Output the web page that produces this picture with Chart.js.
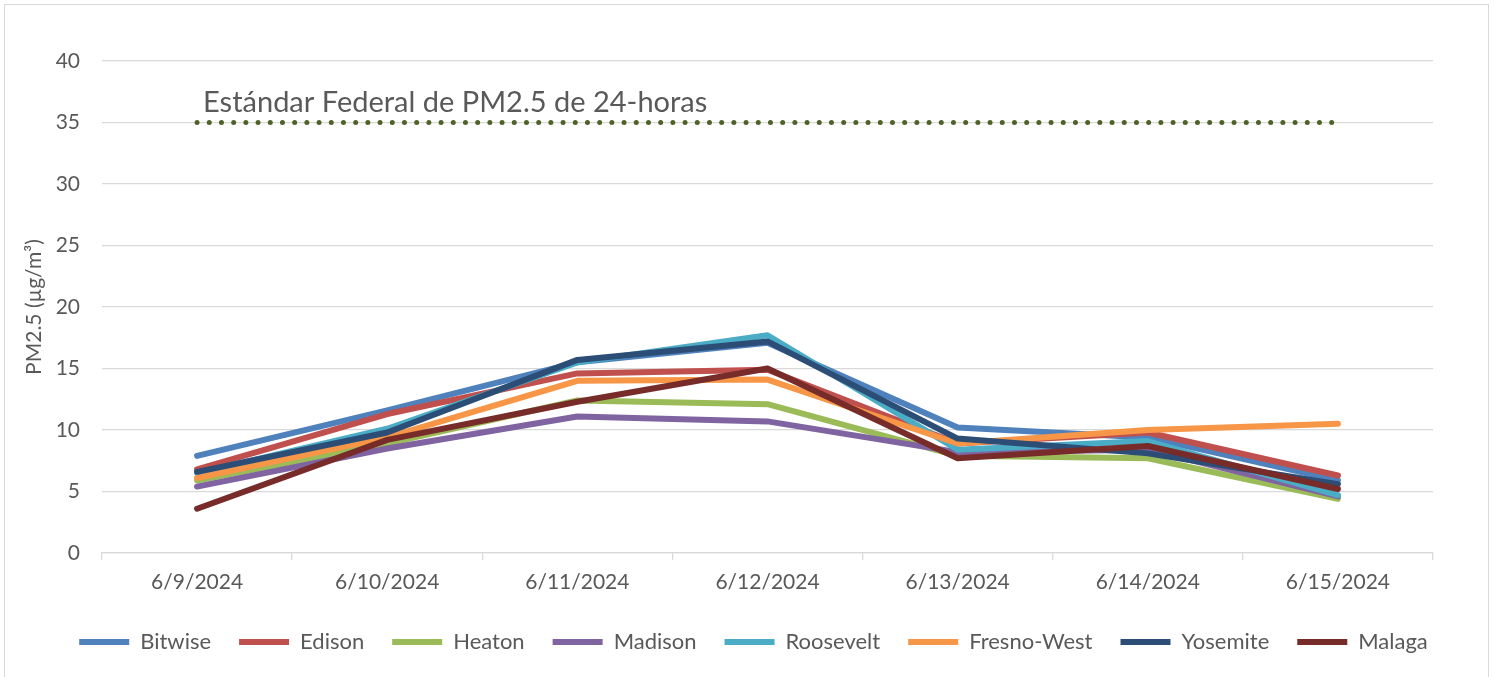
<!DOCTYPE html>
<html>
<head>
<meta charset="utf-8">
<script src="https://cdn.jsdelivr.net/npm/chart.js@4"></script>
<style>
  html, body { margin: 0; padding: 0; background: #fff; }
  #wrap { position: relative; width: 1496px; height: 677px; overflow: hidden; }
  #frame { position: absolute; left: 4px; top: 4px; width: 1485px; height: 700px; border: 1px solid #d9d9d9; box-sizing: border-box; }
  canvas { position: absolute; left: 0; top: 0; }
</style>
</head>
<body>
<div id="wrap">
  <div id="frame"></div>
  <canvas id="c" width="1496" height="677"></canvas>
</div>
<script>
const categories = ['6/9/2024', '6/10/2024', '6/11/2024', '6/12/2024', '6/13/2024', '6/14/2024', '6/15/2024'];
const seriesNames = ['Bitwise', 'Edison', 'Heaton', 'Madison', 'Roosevelt', 'Fresno-West', 'Yosemite', 'Malaga'];
const bitwise    = [7.9, 11.6, 15.5, 17.1, 10.2, 9.4, 5.9];
const edison     = [6.8, 11.3, 14.6, 14.9, 8.9, 9.8, 6.3];
const heaton     = [5.9, 8.9, 12.4, 12.1, 7.9, 7.7, 4.4];
const madison    = [5.4, 8.5, 11.1, 10.7, 8.2, 8.4, 4.6];
const roosevelt  = [6.5, 10.1, 15.5, 17.7, 8.4, 9.1, 4.7];
const fresnoWest = [6.1, 9.4, 14.0, 14.1, 8.9, 10.0, 10.5];
const yosemite   = [6.6, 9.8, 15.7, 17.2, 9.3, 8.1, 5.6];
const malaga     = [3.6, 9.2, 12.3, 15.0, 7.7, 8.7, 5.2];
const federalStandard = [35, 35, 35, 35, 35, 35, 35];
const federalLabel = 'Estándar Federal de PM2.5 de 24-horas';
const yTicks = [0, 5, 10, 15, 20, 25, 30, 35, 40];
const yTitle = 'PM2.5 (µg/m³)';

const seriesValues = [bitwise, edison, heaton, madison, roosevelt, fresnoWest, yosemite, malaga];
const seriesColors = ['#4F81BD', '#C0504D', '#9BBB59', '#8064A2', '#4BACC6', '#F79646', '#2C4D75', '#772C2A'];

const FONT = 'Lato, "Open Sans", sans-serif';
const TXT = '#595959';

const datasets = seriesNames.map((name, i) => ({
  label: name,
  data: seriesValues[i],
  borderColor: seriesColors[i],
  backgroundColor: seriesColors[i],
  borderWidth: 6,
  pointRadius: 0,
  pointHoverRadius: 0,
  tension: 0,
  borderCapStyle: 'round',
  borderJoinStyle: 'round',
  order: 20 - i
}));
datasets.push({
  label: federalLabel,
  data: federalStandard,
  borderColor: '#4F6228',
  backgroundColor: '#4F6228',
  borderWidth: 5,
  borderDash: [0, 12.2],
  borderCapStyle: 'round',
  pointRadius: 0,
  order: 30,
  isFederal: true
});

const textPlugin = {
  id: 'fedText',
  afterLayout(chart) {
    const lg = chart.legend;
    if (lg) {
      const h = lg.bottom - lg.top;
      lg.left = 11; lg.right = 1496; lg.width = lg.right - lg.left;
      lg.top = 603; lg.bottom = 603 + h;
    }
  },
  afterDatasetsDraw(chart) {
    const ctx = chart.ctx;
    const xs = chart.scales.x, ys = chart.scales.y;
    ctx.save();
    ctx.font = '29px ' + FONT;
    ctx.fillStyle = TXT;
    ctx.textAlign = 'left';
    ctx.textBaseline = 'alphabetic';
    ctx.fillText(federalLabel, xs.getPixelForValue(0) + 6, ys.getPixelForValue(35) - 11);
    ctx.restore();
  }
};

new Chart(document.getElementById('c'), {
  type: 'line',
  data: { labels: categories, datasets },
  plugins: [textPlugin],
  options: {
    responsive: false,
    animation: false,
    events: [],
    layout: { padding: { left: 22, right: 63, top: 61, bottom: 9 } },
    plugins: {
      tooltip: { enabled: false },
      legend: {
        position: 'bottom',
        labels: {
          filter: (item, data) => !data.datasets[item.datasetIndex].isFederal,
          sort: (a, b) => a.datasetIndex - b.datasetIndex,
          generateLabels(chart) {
            return chart.data.datasets.map((ds, i) => ({
              text: ds.label,
              fillStyle: ds.borderColor,
              strokeStyle: ds.borderColor,
              lineWidth: 0,
              hidden: false,
              datasetIndex: i,
              fontColor: TXT
            }));
          },
          boxWidth: 50,
          boxHeight: 6,
          padding: 28,
          color: TXT,
          font: { family: FONT, size: 22 }
        }
      }
    },
    scales: {
      x: {
        offset: true,
        grid: { display: true, drawOnChartArea: false, offset: true, tickLength: 7, color: '#d9d9d9', lineWidth: 1.3 },
        border: { display: true, color: '#d9d9d9', width: 1.3 },
        ticks: { color: TXT, font: { family: FONT, size: 21 }, padding: 10, maxRotation: 0 },
        afterFit(scale) { scale.height = 55; }
      },
      y: {
        min: 0, max: 40,
        afterBuildTicks(scale) { scale.ticks = yTicks.map(v => ({ value: v })); },
        grid: { color: '#d9d9d9', lineWidth: 1.3, drawTicks: false },
        border: { display: false },
        ticks: { color: TXT, font: { family: FONT, size: 21 }, padding: 22 },
        title: { display: true, text: yTitle, color: TXT, font: { family: FONT, size: 21 }, padding: 0 },
        afterFit(scale) { scale.width = 80; }
      }
    }
  }
});
</script>
</body>
</html>
